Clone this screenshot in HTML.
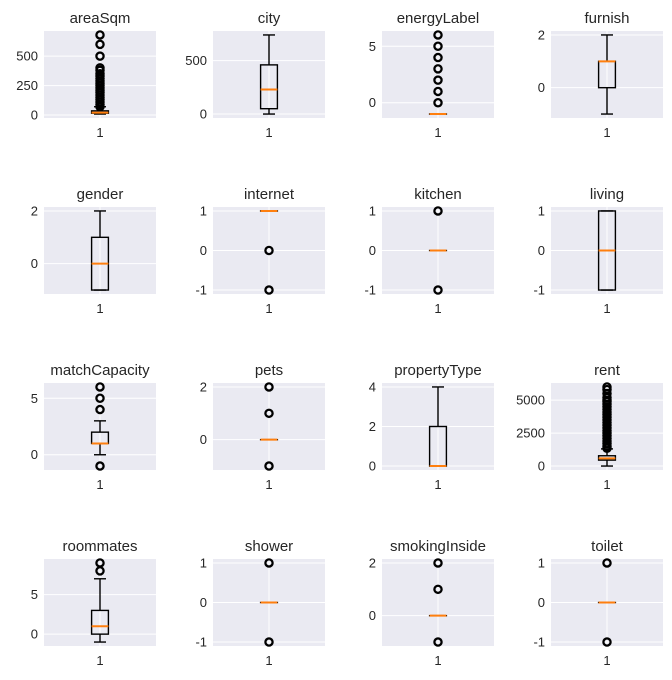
<!DOCTYPE html>
<html><head><meta charset="utf-8">
<style>
html,body{margin:0;padding:0;background:#fff;}
svg{display:block;font-family:"Liberation Sans","DejaVu Sans",sans-serif;}
</style></head>
<body>
<svg id="fig" width="672" height="680" xmlns="http://www.w3.org/2000/svg"></svg>
<script>
const titles = ["areaSqm","city","energyLabel","furnish","gender","internet","kitchen","living","matchCapacity","pets","propertyType","rent","roommates","shower","smokingInside","toilet"];
const q1s = [15,50,-1,0,-1,1,0,-1,1,0,0,450,0,0,0,0];
const medians = [20,230,-1,1,0,1,0,0,1,0,0,580,1,0,0,0];
const q3s = [35,460,-1,1,1,1,0,1,2,0,2,780,3,0,0,0];
const whisLo = [8,0,-1,-1,-1,1,0,-1,0,0,0,0,-1,0,0,0];
const whisHi = [70,740,-1,2,2,1,0,1,3,0,4,1300,7,0,0,0];
const fliers = [
 [70,90,110,130,150,170,190,210,230,250,270,290,310,330,350,380,400,500,600,680],
 [],
 [0,1,2,3,4,5,6],
 [],[],
 [0,-1],
 [-1,1],
 [],
 [4,5,6,-1],
 [-1,1,2],
 [],
 [1350,1500,1700,1900,2100,2300,2500,2700,2900,3100,3300,3500,3700,3900,4100,4300,4500,4700,4900,5000,5200,5500,5800,6000],
 [8,9],
 [-1,1],
 [-1,1,2],
 [-1,1]
];
const ticks = [
 [0,250,500],[0,500],[0,5],[0,2],
 [0,2],[-1,0,1],[-1,0,1],[-1,0,1],
 [0,5],[0,2],[0,2,4],[0,2500,5000],
 [0,5],[-1,0,1],[0,2],[-1,0,1]
];

const NS="http://www.w3.org/2000/svg";
const svg=document.getElementById('fig');
function mk(tag,attrs,parent){const e=document.createElementNS(NS,tag);for(const k in attrs)e.setAttribute(k,attrs[k]);(parent||svg).appendChild(e);return e;}

const X0=44, DX=169, Y0=31, DY=176, W=112, H=87;
titles.forEach((t,i)=>{
  const col=i%4,row=Math.floor(i/4);
  const ax=X0+col*DX, ay=Y0+row*DY;
  const g=mk('g',{});
  
  
  const vals=[whisLo[i],whisHi[i],q1s[i],q3s[i],...fliers[i]];
  const mn=Math.min(...vals), mx=Math.max(...vals);
  const r=(mx-mn)||1;
  const lo=mn-0.05*r, hi=mx+0.05*r;
  const y=v=>ay+H-(v-lo)/(hi-lo)*H;
  const x=v=>ax+(v-0.5)*W;
  const bg=mk('rect',{x:ax,y:ay,width:W,height:H,fill:'#eaeaf2'},g);
  
  
  ticks[i].forEach(tv=>{
    const gl=mk('line',{x1:ax,x2:ax+W,y1:y(tv),y2:y(tv),stroke:'#fff','stroke-width':1},g);
    
    
    const tl=mk('text',{x:ax-6,y:y(tv)+4.5,'text-anchor':'end','font-size':13,fill:'#262626'},g);
    
    
    tl.textContent=tv;
  });
  mk('line',{x1:x(1),x2:x(1),y1:ay,y2:ay+H,stroke:'#fff','stroke-width':1},g);
  const xl=mk('text',{x:x(1),y:ay+H+19,'text-anchor':'middle','font-size':13,fill:'#262626'},g);
  
  
  xl.textContent='1';
  const tt=mk('text',{x:ax+W/2,y:ay-8,'text-anchor':'middle','font-size':15,fill:'#262626'},g);
  
  
  tt.textContent=t;
  const bw=0.15, cw=0.075;
  const st={stroke:'#000','stroke-width':1.4,fill:'none'};
  const w1=mk('line',Object.assign({x1:x(1),x2:x(1),y1:y(whisLo[i]),y2:y(q1s[i])},st),g);
  
  
  const w2=mk('line',Object.assign({x1:x(1),x2:x(1),y1:y(q3s[i]),y2:y(whisHi[i])},st),g);
  
  
  [whisLo[i],whisHi[i]].forEach(c=>{
    const cp=mk('line',Object.assign({x1:x(1)-6,x2:x(1)+6,y1:y(c),y2:y(c)},st),g);
    
    
  });
  const bx=mk('rect',Object.assign({x:x(1-bw/2),width:bw*W,y:y(q3s[i]),height:Math.max(y(q1s[i])-y(q3s[i]),0.01)},st),g);
  
  
  const md=mk('line',{x1:x(1-bw/2),x2:x(1+bw/2),y1:y(medians[i]),y2:y(medians[i]),stroke:'#ff7f0e','stroke-width':2},g);
  
  
  fliers[i].forEach(f=>{
    const c=mk('circle',{cx:x(1),cy:y(f),r:3.6,fill:'none',stroke:'#000','stroke-width':2.3},g);
    
    
  });
});
</script>
</body></html>
